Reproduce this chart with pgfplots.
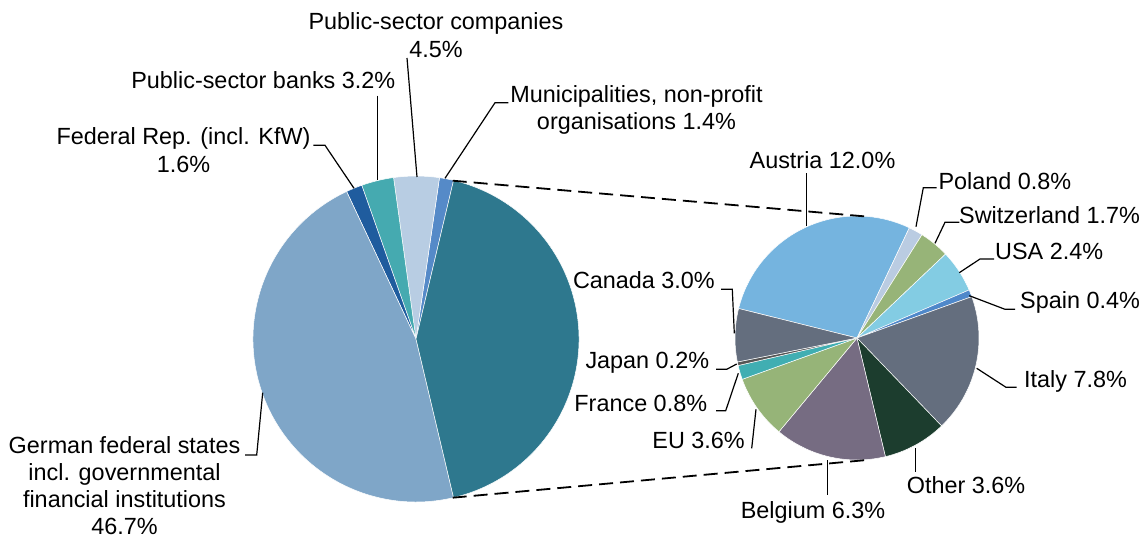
\documentclass[border=0pt]{standalone}
\usepackage{pgfplots}
\pgfplotsset{compat=1.18}
\usepackage{fontspec}
\setmainfont{Liberation Sans}
% left pie colours
\definecolor{cGer}{HTML}{7FA6C8}
\definecolor{cFed}{HTML}{1F5C9E}
\definecolor{cBank}{HTML}{45AAB0}
\definecolor{cComp}{HTML}{B8CDE3}
\definecolor{cMuni}{HTML}{558AC8}
\definecolor{cFor}{HTML}{2E788E}
% right pie colours
\definecolor{cAut}{HTML}{75B4DF}
\definecolor{cPol}{HTML}{BACCE2}
\definecolor{cSwi}{HTML}{97B478}
\definecolor{cUSA}{HTML}{83CCE3}
\definecolor{cSpa}{HTML}{4F88CA}
\definecolor{cIta}{HTML}{646E7E}
\definecolor{cOth}{HTML}{1C3D2E}
\definecolor{cBel}{HTML}{766C82}
\definecolor{cEU}{HTML}{96B478}
\definecolor{cFra}{HTML}{40AEB2}
\definecolor{cJap}{HTML}{555555}
\definecolor{cCan}{HTML}{646E7E}
\tikzset{lbl/.style={font=\fontsize{23.4}{27}\selectfont, inner sep=0pt, text=black},
         ldr/.style={line width=1.2pt, black}}
\begin{document}
\begin{tikzpicture}
\begin{axis}[width=1141pt, height=537pt, scale only axis,
  xmin=0, xmax=1141, ymin=0, ymax=537, y dir=reverse,
  hide axis, clip=false]
% ---- left pie (shares of total, %) ----
\pgfplotsextra{%
  \pgfmathsetmacro\acc{42.6*1.8}%
  \xdef\acc{\acc}%
  \foreach \v/\c in {1.4/cMuni, 4.5/cComp, 3.2/cBank, 1.6/cFed, 46.7/cGer, 42.6/cFor}{%
    \pgfmathsetmacro\e{\acc+\v*3.6}%
    \fill[\c, draw=white, line width=0.5pt] (axis cs:416,339) -- ++(\acc:163pt)
      arc[start angle=\acc, end angle=\e, radius=163pt] -- cycle;
    \xdef\acc{\e}%
  }%
  % ---- right pie (breakdown of the 42.6 %) ----
  \xdef\acc{166}%
  \foreach \v/\c in {12.0/cAut, 0.8/cPol, 1.7/cSwi, 2.4/cUSA, 0.4/cSpa, 7.8/cIta,
                     3.6/cOth, 6.3/cBel, 3.6/cEU, 0.8/cFra, 0.2/cJap, 3.0/cCan}{%
    \pgfmathsetmacro\e{\acc-\v*360/42.6}%
    \fill[\c, draw=white, line width=0.5pt] (axis cs:857,338) -- ++(\acc:122pt)
      arc[start angle=\acc, end angle=\e, radius=122pt] -- cycle;
    \xdef\acc{\e}%
  }%
}
% connector lines
\draw[line width=1.8pt, dash pattern=on 14pt off 7pt] (axis cs:452.7,180.7) -- (axis cs:866,216.5);
\draw[line width=1.8pt, dash pattern=on 14pt off 7pt] (axis cs:452.7,497.7) -- (axis cs:867,460);
% leader lines
\draw[ldr] (axis cs:407,58) -- (axis cs:417,177);
\draw[ldr] (axis cs:377.7,95.7) -- (axis cs:377.7,180);
\draw[ldr] (axis cs:313.3,145.3) -- (axis cs:325,145.3) -- (axis cs:354,188.3);
\draw[ldr] (axis cs:508.3,102.7) -- (axis cs:495,102.7) -- (axis cs:445,178.3);
\draw[ldr] (axis cs:245,455) -- (axis cs:256.7,455) -- (axis cs:262.7,392.7);
\draw[ldr] (axis cs:806.7,173.3) -- (axis cs:806.7,226.3);
\draw[ldr] (axis cs:936.7,187.7) -- (axis cs:923.3,187.7) -- (axis cs:916,226.7);
\draw[ldr] (axis cs:959.3,222.3) -- (axis cs:945,222.3) -- (axis cs:935,243.3);
\draw[ldr] (axis cs:994,259) -- (axis cs:980,259) -- (axis cs:959.3,272.7);
\draw[ldr] (axis cs:1015,309.3) -- (axis cs:1005,309.3) -- (axis cs:969.3,295.7);
\draw[ldr] (axis cs:1016.7,387.3) -- (axis cs:1006,387.3) -- (axis cs:976.7,368.3);
\draw[ldr] (axis cs:915.7,448.3) -- (axis cs:915.7,471.7);
\draw[ldr] (axis cs:827.5,460) -- (axis cs:827.5,495);
\draw[ldr] (axis cs:751.7,448.3) -- (axis cs:756,409.3);
\draw[ldr] (axis cs:716,410.7) -- (axis cs:725.7,410.7) -- (axis cs:738.3,373.3);
\draw[ldr] (axis cs:716,369.3) -- (axis cs:726.7,369.3) -- (axis cs:736.7,364);
\draw[ldr] (axis cs:721,289.3) -- (axis cs:732.3,289.3) -- (axis cs:734.3,333.3);
% labels
\node[lbl, anchor=base] at (axis cs:436,30) {Public-sector companies};
\node[lbl, anchor=base] at (axis cs:436,57.3) {4.5\%};
\node[lbl, anchor=base] at (axis cs:263.3,88.3) {Public-sector banks 3.2\%};
\node[lbl, anchor=base] at (axis cs:183.5,144.3) {Federal Rep. (incl. KfW)};
\node[lbl, anchor=base] at (axis cs:183.5,172.7) {1.6\%};
\node[lbl, anchor=base] at (axis cs:636.5,102.7) {Municipalities, non-profit};
\node[lbl, anchor=base] at (axis cs:636.5,130) {organisations 1.4\%};
\node[lbl, anchor=base] at (axis cs:124.5,453.5) {German federal states};
\node[lbl, anchor=base] at (axis cs:124.5,480.5) {incl. governmental};
\node[lbl, anchor=base] at (axis cs:124.5,507.5) {financial institutions};
\node[lbl, anchor=base] at (axis cs:124.5,534.3) {46.7\%};
\node[lbl, anchor=base] at (axis cs:822.5,168.3) {Austria 12.0\%};
\node[lbl, anchor=base west] at (axis cs:938.3,189.3) {Poland 0.8\%};
\node[lbl, anchor=base west] at (axis cs:959,224) {Switzerland 1.7\%};
\node[lbl, anchor=base west] at (axis cs:995,260) {USA 2.4\%};
\node[lbl, anchor=base west] at (axis cs:1020,308.3) {Spain 0.4\%};
\node[lbl, anchor=base west] at (axis cs:1024,387.3) {Italy 7.8\%};
\node[lbl, anchor=base west] at (axis cs:906.7,493.3) {Other 3.6\%};
\node[lbl, anchor=base] at (axis cs:813,518.3) {Belgium 6.3\%};
\node[lbl, anchor=base east] at (axis cs:745,448.3) {EU 3.6\%};
\node[lbl, anchor=base east] at (axis cs:707.3,411.7) {France 0.8\%};
\node[lbl, anchor=base east] at (axis cs:709.3,368.3) {Japan 0.2\%};
\node[lbl, anchor=base east] at (axis cs:715,288.3) {Canada 3.0\%};
\coordinate (BBa) at (rel axis cs:0,0);
\coordinate (BBb) at (rel axis cs:1,1);
\end{axis}
\pgfresetboundingbox
\useasboundingbox (BBa) rectangle (BBb);
\end{tikzpicture}
\end{document}
